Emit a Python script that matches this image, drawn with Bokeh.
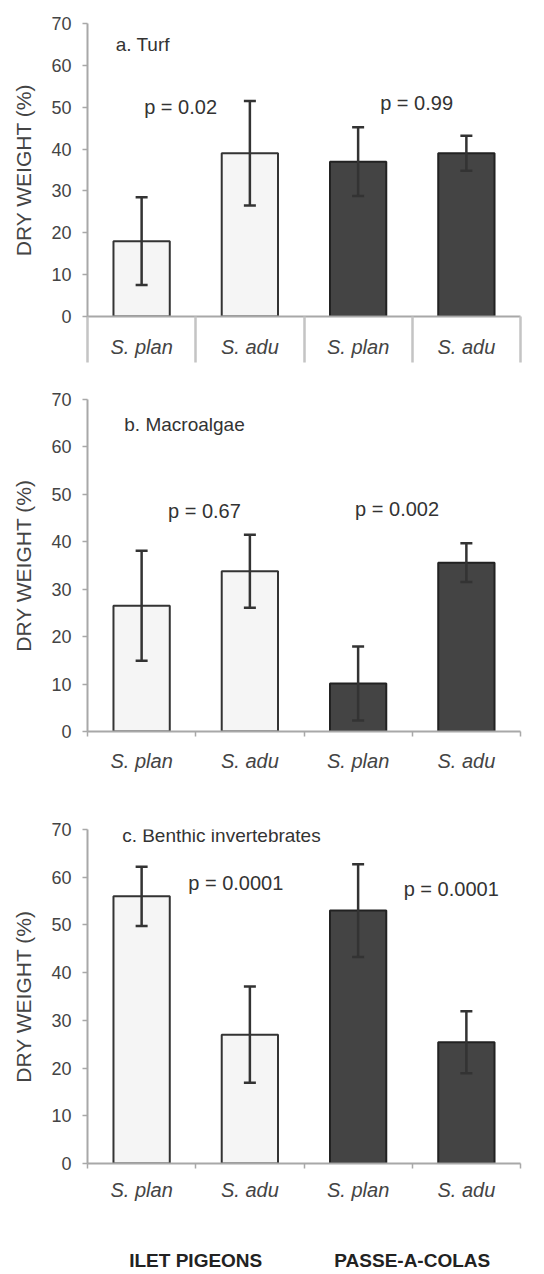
from bokeh.plotting import figure
from bokeh.layouts import column
from bokeh.models import (ColumnDataSource, FixedTicker, LinearAxis, Whisker,
                          TeeHead, Label, Range1d)
from bokeh.embed import file_html
from bokeh.resources import INLINE

# ---------------- data ----------------
categories = ["S. plan", "S. adu", "S. plan", "S. adu"]
sites = ["ILET PIGEONS", "PASSE-A-COLAS"]
y_ticks = [0, 10, 20, 30, 40, 50, 60, 70]

turf_mean = [18.0, 39.0, 37.0, 39.0]
turf_err = [10.5, 12.5, 8.2, 4.2]
macro_mean = [26.5, 33.8, 10.1, 35.6]
macro_err = [11.6, 7.7, 7.8, 4.1]
benth_mean = [56.0, 27.0, 53.0, 25.4]
benth_err = [6.2, 10.1, 9.7, 6.5]

turf_p = ["p = 0.02", "p = 0.99"]
macro_p = ["p = 0.67", "p = 0.002"]
benth_p = ["p = 0.0001", "p = 0.0001"]

# ---------------- style ----------------
FONT = "Liberation Sans"
TXT = "#333333"
AXIS = "#a8a8a8"
SITE_FILL = ["#f5f5f5", "#444444"]
SITE_LINE = ["#333333", "#222222"]
W = 544


def panel(title, title_pos, means, errs, pvals, p_pos, height, btop, bbot,
          cat_standoff, table=False, groups=False):
    n = len(categories)
    xs = [i + 0.5 for i in range(n)]
    site_idx = [i * len(sites) // n for i in range(n)]
    src = ColumnDataSource(dict(
        x=xs, top=means,
        upper=[m + e for m, e in zip(means, errs)],
        lower=[m - e for m, e in zip(means, errs)],
        fill=[SITE_FILL[s] for s in site_idx],
        line=[SITE_LINE[s] for s in site_idx],
    ))
    p = figure(width=W, height=height, x_range=Range1d(0, n),
               y_range=Range1d(0, 70), output_backend="svg",
               toolbar_location=None, min_border_left=87,
               min_border_right=24, min_border_top=btop,
               min_border_bottom=bbot)
    p.outline_line_color = None
    p.xgrid.visible = False
    p.ygrid.visible = False
    p.background_fill_color = "white"

    p.vbar(x="x", top="top", width=0.52, fill_color="fill",
           line_color="line", line_width=2, source=src)
    w = Whisker(base="x", upper="upper", lower="lower", source=src,
                level="overlay",
                line_color="#333333", line_width=2.5,
                upper_head=TeeHead(size=12, line_color="#333333", line_width=2.5),
                lower_head=TeeHead(size=12, line_color="#333333", line_width=2.5))
    p.add_layout(w)

    # x axis
    xa = p.xaxis[0]
    xa.ticker = FixedTicker(ticks=xs, minor_ticks=list(range(n + 1)))
    xa.major_label_overrides = {x: c for x, c in zip(xs, categories)}
    xa.major_tick_line_color = None
    xa.major_tick_out = 0
    xa.major_tick_in = 0
    xa.minor_tick_in = 0
    xa.minor_tick_out = 46 if table else 5
    xa.minor_tick_line_color = "#c4c4c4" if table else AXIS
    xa.minor_tick_line_width = 2.5 if table else 1.5
    xa.axis_line_color = AXIS
    xa.axis_line_width = 2
    xa.major_label_standoff = cat_standoff
    xa.major_label_text_font = FONT
    xa.major_label_text_font_size = "20px"
    xa.major_label_text_font_style = "italic"
    xa.major_label_text_color = "#444444"

    # y axis
    ya = p.yaxis[0]
    ya.ticker = FixedTicker(ticks=y_ticks, minor_ticks=[])
    ya.axis_label = "DRY WEIGHT (%)"
    ya.axis_label_text_font = FONT
    ya.axis_label_text_font_size = "21px"
    ya.axis_label_text_font_style = "normal"
    ya.axis_label_text_color = "#444444"
    ya.axis_label_standoff = 13
    ya.major_tick_out = 5
    ya.major_tick_in = 0
    ya.major_tick_line_color = AXIS
    ya.major_tick_line_width = 1.5
    ya.axis_line_color = AXIS
    ya.axis_line_width = 2
    ya.major_label_standoff = 11
    ya.major_label_text_font = FONT
    ya.major_label_text_font_size = "18px"
    ya.major_label_text_color = "#444444"

    # texts
    p.add_layout(Label(x=title_pos[0], y=title_pos[1], text=title,
                       text_font=FONT, text_font_size="19px",
                       text_color=TXT, text_baseline="middle",
                       text_align="left"))
    for txt, (px, py) in zip(pvals, p_pos):
        p.add_layout(Label(x=px, y=py, text=txt, text_font=FONT,
                           text_font_size="20px", text_color=TXT,
                           text_baseline="middle", text_align="center"))

    if groups:
        per = n // len(sites)
        centers = [g * per + per / 2 for g in range(len(sites))]
        ga = LinearAxis(ticker=FixedTicker(ticks=centers, minor_ticks=[]),
                        major_label_overrides={c: s for c, s in zip(centers, sites)})
        ga.axis_line_color = None
        ga.major_tick_line_color = None
        ga.minor_tick_line_color = None
        ga.major_tick_out = 0
        ga.minor_tick_out = 0
        ga.major_label_standoff = 46
        ga.major_label_text_font = FONT
        ga.major_label_text_font_size = "19px"
        ga.major_label_text_font_style = "bold"
        ga.major_label_text_color = "#222222"
        p.add_layout(ga, "below")
    return p


pa = panel("a. Turf", (0.26, 64.9), turf_mean, turf_err, turf_p,
           [(0.86, 50), (3.04, 51)], 380, 23, 64, -27, table=True)
pb = panel("b. Macroalgae", (0.34, 64.8), macro_mean, macro_err, macro_p,
           [(1.08, 46.5), (2.86, 47)], 420, 19, 69, 13)
pc = panel("c. Benthic invertebrates", (0.32, 68.8), benth_mean, benth_err,
           benth_p, [(1.37, 58.8), (3.36, 57.6)], 474, 29, 111, 10,
           groups=True)

layout = column(pa, pb, pc, spacing=0)
open("out.html", "w").write(file_html(layout, INLINE))
